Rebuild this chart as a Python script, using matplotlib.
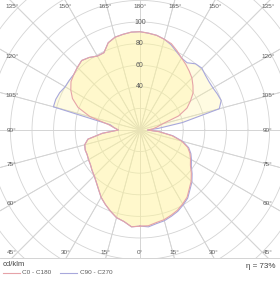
import matplotlib
matplotlib.use("Agg")
import matplotlib.pyplot as plt
from matplotlib.lines import Line2D
import numpy as np

plt.rcParams.update({
    "font.family": ["Liberation Sans", "DejaVu Sans"],
    "font.size": 5,
})

# -- Data: luminous intensity (cd/klm) every 5 deg, gamma 0 (down) .. 180 (up)
GAMMA = list(range(0, 181, 5))

C0 = [89, 89, 87, 86, 84, 82, 79, 76, 71, 67, 62, 57, 54, 51, 47, 40, 30, 18,
      7, 12, 16, 21, 38, 48, 54, 60, 64, 68, 71, 74, 77, 81, 85, 87, 89, 90, 91]
C180 = [89, 90, 86, 84, 80, 76, 72, 67, 63, 60, 58, 56, 55, 54, 54, 53, 49, 35,
        20, 24, 30, 48, 61, 69, 74, 78, 80, 82, 84, 82, 79, 79, 86, 89, 90, 91, 91]
C90 = [89, 90, 88, 87, 85, 83, 80, 77, 72, 68, 63, 58, 55, 52, 48, 41, 31, 18,
       7, 17, 40, 76, 80, 79, 78, 78, 79, 81, 80, 76, 77, 80, 84, 87, 89, 90, 91]
C270 = [89, 90, 86, 84, 80, 76, 72, 67, 63, 60, 58, 56, 55, 54, 54, 53, 49, 35,
        20, 24, 28, 83, 83, 82, 80, 80, 80, 82, 84, 82, 79, 79, 86, 89, 90, 91, 91]

RINGS = [20, 40, 60, 80, 100, 120, 140, 160, 180]
RING_LABELS = [40, 60, 80, 100]
ETA = "η = 73%"

# -- Layout --------------------------------------------------------------------
W, H = 280, 281
S = 1.08            # px per cd/klm
CX, CY = 140, 130   # polar centre (px)
PLOT_H = 258        # bottom of the diagram area (px)

C_PINK = "#e6a3a8"
C_BLUE = "#a8a8dc"
C_FILL = "#fff49c"
C_GRID = "#d4d4d4"
C_TEXT = "#5a5a5a"


def half(gam, r, side):
    g = np.radians(gam)
    r = np.asarray(r, dtype=float)
    return side * r * np.sin(g), -r * np.cos(g)


def outline(right, left):
    xr, yr = half(GAMMA, right, 1)
    xl, yl = half(GAMMA[::-1], left[::-1], -1)
    return np.concatenate([xr, xl]), np.concatenate([yr, yl])


fig = plt.figure(figsize=(W / 100, H / 100), dpi=100)
ax = fig.add_axes([0, 1 - PLOT_H / H, 1, PLOT_H / H])
ax.set_xlim(-CX / S, (W - CX) / S)
ax.set_ylim(-(PLOT_H - CY) / S, CY / S)
ax.axis("off")

# grid
t = np.linspace(0, 2 * np.pi, 400)
for r in RINGS:
    ax.plot(r * np.cos(t), r * np.sin(t), color=C_GRID, lw=0.6, zorder=1)
for g in range(0, 180, 15):
    for side in (-1, 1):
        x, y = half([g, g], [0, 300], side)
        ax.plot(x, y, color=C_GRID, lw=0.6, zorder=1)
        ax.plot(-x, -y, color=C_GRID, lw=0.6, zorder=1)

# curves
for right, left, col in [(C90, C270, C_BLUE), (C0, C180, C_PINK)]:
    x, y = outline(right, left)
    ax.fill(x, y, color=C_FILL, alpha=0.3, lw=0, zorder=2)
    ax.plot(np.append(x, x[0]), np.append(y, y[0]), color=col, lw=0.8, zorder=3)

for v in RING_LABELS:
    ax.text(0, v, str(v), ha="center", va="center", color=C_TEXT,
            fontsize=5, zorder=4)

# angle labels along the frame
X_EDGE = CX / S
Y_TOP, Y_BOT = CY / S, -(PLOT_H - CY) / S
for g in range(0, 181, 15):
    for side in ([1] if g in (0, 180) else [-1, 1]):
        dx = side * np.sin(np.radians(g))
        dy = -np.cos(np.radians(g))
        tx = X_EDGE / abs(dx) if abs(dx) > 1e-9 else np.inf
        ty = (Y_TOP / dy) if dy > 1e-9 else ((Y_BOT / dy) if dy < -1e-9 else np.inf)
        if ty <= tx:
            lx = np.clip(ty * dx, -(CX - 12) / S, (CX - 12) / S)
            ly = (CY - 7) / S if dy > 0 else -(252 - CY) / S
        else:
            lx = np.sign(dx) * (CX - 12) / S
            ly = (CX - 12) / S / abs(dx) * dy
        ax.text(lx, ly, f"{g}°", ha="center", va="center", color=C_TEXT,
                fontsize=4.6, zorder=4)

# footer
fig.add_artist(Line2D([0, 1], [1 - PLOT_H / H] * 2, color="#cccccc", lw=0.6))
fig.text(3 / W, 1 - 265 / H, "cd/klm", color="#444444", fontsize=5.5, va="center")
fig.text(275 / W, 1 - 266 / H, ETA, color="#444444", fontsize=5.8,
         ha="right", va="center")
ly = 1 - 273 / H
fig.add_artist(Line2D([3 / W, 20 / W], [ly, ly], color=C_PINK, lw=0.8))
fig.text(22 / W, ly, "C0 - C180", color=C_TEXT, fontsize=4.6, va="center")
fig.add_artist(Line2D([60 / W, 77 / W], [ly, ly], color=C_BLUE, lw=0.8))
fig.text(80 / W, ly, "C90 - C270", color=C_TEXT, fontsize=4.6, va="center")

fig.savefig("out.png", dpi=100)
